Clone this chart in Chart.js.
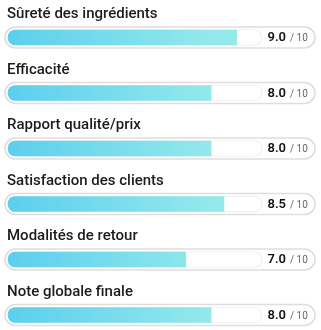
<!DOCTYPE html>
<html><head><meta charset="utf-8">
<script src="https://cdn.jsdelivr.net/npm/chart.js@4"></script>
<style>html,body{margin:0;padding:0;background:#fff}#wrap{width:321px;height:330px}</style>
</head><body><div id="wrap"><canvas id="c" width="321" height="330"></canvas></div>
<script>
const categories = ["Sûreté des ingrédients","Efficacité","Rapport qualité/prix","Satisfaction des clients","Modalités de retour","Note globale finale"];
const scores = [9.0, 8.0, 8.0, 8.5, 7.0, 8.0];
const maxScore = 10;
const maxLabel = "/ 10";

const track = categories.map(() => maxScore);

const decor = {
  id: 'decor',
  beforeDatasetsDraw(chart) {
    const {ctx, chartArea} = chart;
    const ys = chart.scales.y;
    const meta = chart.getDatasetMeta(0);
    meta.data.forEach((el) => {
      const g = ctx.createLinearGradient(el.base, 0, el.x, 0);
      g.addColorStop(0, '#5ccfee');
      g.addColorStop(1, '#93e9eb');
      el.options.backgroundColor = g;
    });
    ctx.save();
    categories.forEach((c, i) => {
      const y = ys.getPixelForValue(i);
      const x0 = chartArea.left - 3, x1 = 315, h = 21;
      ctx.beginPath();
      ctx.roundRect(x0, y - h/2, x1 - x0, h, h/2);
      ctx.fillStyle = '#ffffff';
      ctx.fill();
      ctx.lineWidth = 1.6;
      ctx.strokeStyle = '#dedede';
      ctx.stroke();
    });
    ctx.restore();
  },
  afterDatasetsDraw(chart) {
    const {ctx} = chart;
    const ys = chart.scales.y;
    ctx.save();
    categories.forEach((c, i) => {
      const y = ys.getPixelForValue(i);
      ctx.fillStyle = '#1c1c1c';
      ctx.font = '500 15px Roboto';
      ctx.textAlign = 'left';
      ctx.textBaseline = 'alphabetic';
      ctx.fillText(c, 7, y - 19.5);
      ctx.font = '600 13px Roboto';
      ctx.textAlign = 'right';
      ctx.textBaseline = 'middle';
      ctx.fillStyle = '#111';
      ctx.fillText(scores[i].toFixed(1), 286, y + 0.5);
      ctx.font = '10px Roboto';
      ctx.textAlign = 'left';
      ctx.fillStyle = '#666';
      ctx.fillText(maxLabel, 290, y + 1);
    });
    ctx.restore();
  }
};

new Chart(document.getElementById('c'), {
  type: 'bar',
  data: {
    labels: categories,
    datasets: [
      { data: scores, backgroundColor: '#6fd8ee', barThickness: 15, grouped: false, clip: false,
        borderSkipped: false, borderRadius: {topLeft: 8, bottomLeft: 8, topRight: 0, bottomRight: 0} },
      { data: track, backgroundColor: '#ffffff', borderColor: '#ececec', borderWidth: 1, clip: false,
        barThickness: 16, grouped: false, borderSkipped: false, borderRadius: 8 }
    ]
  },
  options: {
    indexAxis: 'y',
    responsive: false,
    animation: false,
    layout: { padding: { left: 8, right: 59, top: 37.5, bottom: 15 } },
    plugins: { legend: { display: false }, tooltip: { enabled: false } },
    scales: {
      x: { display: false, min: 0, max: maxScore },
      y: { display: false, offset: false }
    }
  },
  plugins: [decor]
});
</script></body></html>
